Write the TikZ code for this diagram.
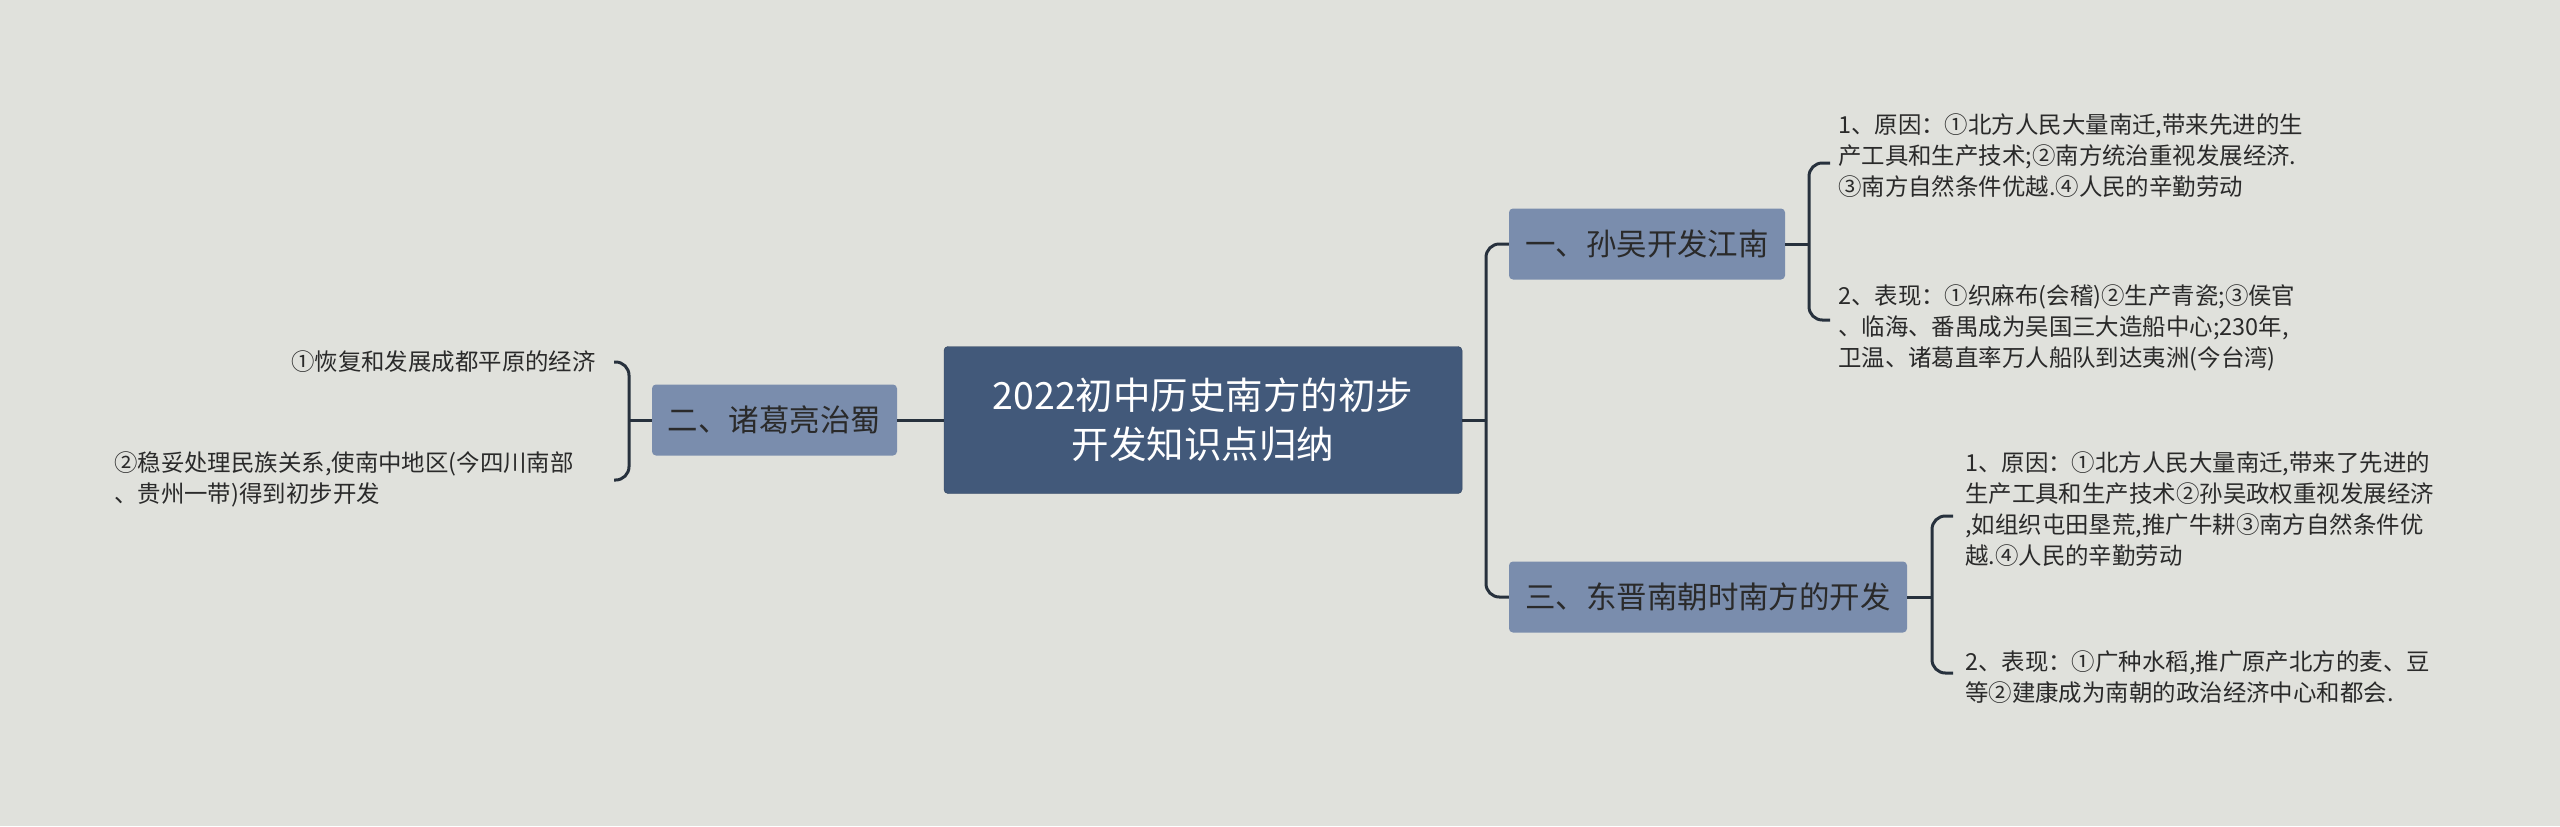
\documentclass[tikz,border=0pt]{standalone}
\usepackage{fontspec}
\setmainfont{Noto Sans CJK SC}
\definecolor{bg}{HTML}{E0E1DC}
\definecolor{mainc}{HTML}{42597A}
\definecolor{subc}{HTML}{7A8DAD}
\definecolor{linec}{HTML}{27313D}
\definecolor{txt}{HTML}{2A2A2A}
\tikzset{
 mainbox/.style={fill=mainc,draw=mainc!80!black,rounded corners=1.2mm,text=white,font=\fontsize{32}{42}\selectfont,align=center,minimum width=155.4mm,minimum height=44.1mm,inner sep=0},
 subbox/.style={fill=subc,rounded corners=1.2mm,text=txt,font=\fontsize{26}{30}\selectfont,minimum height=21.3mm,inner sep=0},
 leaf/.style={text=txt,font=\fontsize{20}{26.5}\selectfont,inner sep=0},
 conn/.style={draw=linec,line width=0.9mm,rounded corners=4mm},
}
\begin{document}
\begin{tikzpicture}[x=0.3mm,y=-0.3mm]
\fill[bg] (0,0) rectangle (2560,826);
\node[mainbox] (c) at (1203,420) {2022初中历史南方的初步\\开发知识点归纳};
\node[subbox,minimum width=73.5mm] (l) at (774.5,420) {二、诸葛亮治蜀};
\node[subbox,minimum width=82.8mm] (r1) at (1647,244) {一、孙吴开发江南};
\node[subbox,minimum width=119.4mm] (r3) at (1708,597) {三、东晋南朝时南方的开发};
% center to right
\coordinate (j) at (1486,420);
\draw[conn] (c.east) -- (j);
\draw[conn] (j) |- (r1.west);
\draw[conn] (j) |- (r3.west);
\draw[conn] (c.west) -- (l.east);
% left bracket
\coordinate (lb1) at (614,362); \coordinate (lb2) at (614,480);
\draw[conn] (l.west) -- (629,420);
\draw[conn] (lb1) -- (629,362) -- (629,480) -- (lb2);
\node[leaf,anchor=east] (l1) at (596,362) {①恢复和发展成都平原的经济};
\node[leaf,anchor=north west,align=left] (l2) at (114,451) {②稳妥处理民族关系,使南中地区(今四川南部\\、贵州一带)得到初步开发};
% r1 bracket
\coordinate (a1) at (1830,163); \coordinate (a2) at (1830,320);
\draw[conn] (r1.east) -- (1809,244);
\draw[conn] (a1) -- (1809,163) -- (1809,320) -- (a2);
\node[leaf,anchor=north west,align=left] (t1) at (1838,113) {1、原因：①北方人民大量南迁,带来先进的生\\产工具和生产技术;②南方统治重视发展经济.\\③南方自然条件优越.④人民的辛勤劳动};
\node[leaf,anchor=north west,align=left] (t2) at (1838,284) {2、表现：①织麻布(会稽)②生产青瓷;③侯官\\、临海、番禺成为吴国三大造船中心;230年,\\卫温、诸葛直率万人船队到达夷洲(今台湾)};
% r3 bracket
\coordinate (b1) at (1953,516); \coordinate (b2) at (1953,673);
\draw[conn] (r3.east) -- (1932,597);
\draw[conn] (b1) -- (1932,516) -- (1932,673) -- (b2);
\node[leaf,anchor=north west,align=left] (t3) at (1965,451) {1、原因：①北方人民大量南迁,带来了先进的\\生产工具和生产技术②孙吴政权重视发展经济\\,如组织屯田垦荒,推广牛耕③南方自然条件优\\越.④人民的辛勤劳动};
\node[leaf,anchor=north west,align=left] (t4) at (1965,650) {2、表现：①广种水稻,推广原产北方的麦、豆\\等②建康成为南朝的政治经济中心和都会.};
\end{tikzpicture}
\end{document}
